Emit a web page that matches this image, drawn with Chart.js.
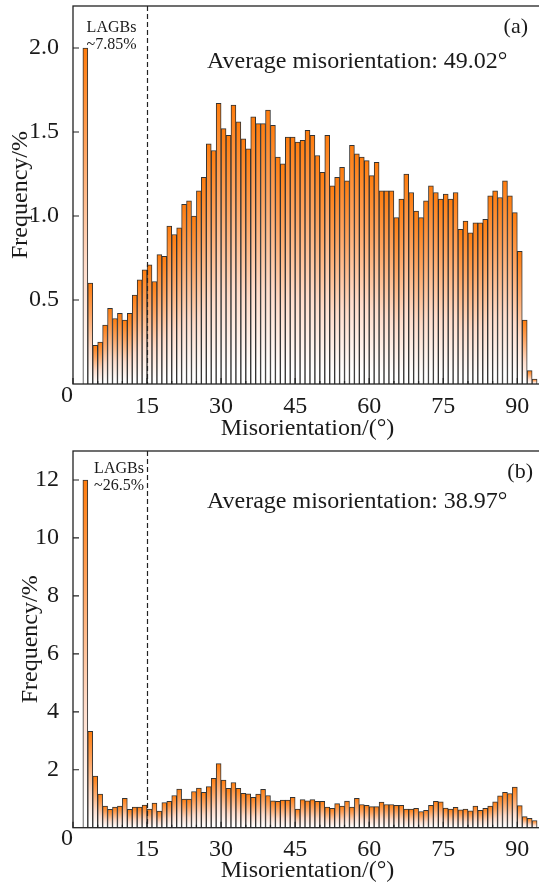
<!DOCTYPE html>
<html>
<head>
<meta charset="utf-8">
<script src="https://cdn.jsdelivr.net/npm/chart.js@4.4.1/dist/chart.umd.min.js"></script>
<style>
  html, body { margin: 0; padding: 0; overflow: hidden; background: #fff; }
  canvas { display: block; }
</style>
</head>
<body>
<canvas id="chartA" width="542" height="445"></canvas>
<canvas id="chartB" width="542" height="442"></canvas>
<script>
// left edge of each 1 degree misorientation bin
var binLeft = [
   2,  3,  4,  5,  6,  7,  8,  9, 10, 11,
  12, 13, 14, 15, 16, 17, 18, 19, 20, 21,
  22, 23, 24, 25, 26, 27, 28, 29, 30, 31,
  32, 33, 34, 35, 36, 37, 38, 39, 40, 41,
  42, 43, 44, 45, 46, 47, 48, 49, 50, 51,
  52, 53, 54, 55, 56, 57, 58, 59, 60, 61,
  62, 63, 64, 65, 66, 67, 68, 69, 70, 71,
  72, 73, 74, 75, 76, 77, 78, 79, 80, 81,
  82, 83, 84, 85, 86, 87, 88, 89, 90, 91,
  92, 93
];

// frequency (%) for panel (a)
var freqA = [
  2.00, 0.60, 0.23, 0.25, 0.35, 0.45, 0.39, 0.42, 0.38, 0.42,
  0.53, 0.62, 0.68, 0.71, 0.61, 0.77, 0.76, 0.94, 0.89, 0.93,
  1.07, 1.09, 1.00, 1.15, 1.23, 1.43, 1.39, 1.67, 1.52, 1.48,
  1.66, 1.56, 1.46, 1.40, 1.59, 1.55, 1.55, 1.63, 1.54, 1.35,
  1.31, 1.47, 1.47, 1.44, 1.45, 1.51, 1.48, 1.36, 1.26, 1.48,
  1.18, 1.23, 1.29, 1.21, 1.42, 1.37, 1.35, 1.33, 1.24, 1.32,
  1.15, 1.15, 1.15, 0.99, 1.10, 1.25, 1.14, 1.03, 0.99, 1.09,
  1.18, 1.14, 1.10, 1.13, 1.10, 1.14, 0.92, 0.97, 0.90, 0.96,
  0.96, 0.98, 1.12, 1.15, 1.11, 1.21, 1.12, 1.02, 0.79, 0.38,
  0.08, 0.03
];

// frequency (%) for panel (b)
var freqB = [
  12.0, 3.33, 1.78, 1.16, 0.75, 0.63, 0.71, 0.75, 1.01, 0.63,
  0.71, 0.71, 0.78, 0.64, 0.85, 0.57, 0.87, 0.91, 1.11, 1.33,
  0.99, 0.99, 1.25, 1.37, 1.22, 1.42, 1.70, 2.21, 1.64, 1.36,
  1.56, 1.36, 1.19, 1.17, 1.05, 1.16, 1.32, 1.11, 0.93, 0.91,
  0.95, 0.95, 1.05, 0.64, 0.97, 0.93, 0.97, 0.91, 0.91, 0.71,
  0.67, 0.83, 0.75, 0.92, 0.71, 1.01, 0.80, 0.77, 0.73, 0.73,
  0.88, 0.80, 0.80, 0.77, 0.77, 0.64, 0.64, 0.67, 0.56, 0.60,
  0.77, 0.91, 0.89, 0.68, 0.64, 0.70, 0.62, 0.64, 0.58, 0.75,
  0.60, 0.67, 0.75, 0.89, 1.10, 1.22, 1.18, 1.40, 0.76, 0.38,
  0.32, 0.25
];

var xTickLabels = [15, 30, 45, 60, 75, 90];
var yTicksA = [0.5, 1.0, 1.5, 2.0];
var yTicksB = [2, 4, 6, 8, 10, 12];

var FONT = "'Liberation Serif', 'Times New Roman', serif";
var INK = '#1a1a1a';

// each bar fades from orange at its top to white at the baseline
function barFill(context) {
  var chart = context.chart;
  if (!chart.chartArea || context.type !== 'data' || !context.parsed) return '#ff7f0e';
  var y = chart.scales.y;
  var top = y.getPixelForValue(context.parsed.y);
  var base = y.getPixelForValue(0);
  if (!isFinite(top) || base - top < 1) return '#ff7f0e';
  var g = chart.ctx.createLinearGradient(0, top, 0, base);
  g.addColorStop(0, 'rgb(255,124,12)');
  g.addColorStop(0.3, 'rgb(255,164,95)');
  g.addColorStop(0.65, 'rgb(255,220,202)');
  g.addColorStop(0.95, '#ffffff');
  return g;
}

// frame, inward ticks, LAGB limit line and the text notes
var framePlugin = {
  id: 'frame',
  afterDatasetsDraw: function(chart, args, opts) {
    var ctx = chart.ctx, a = chart.chartArea;
    var xs = chart.scales.x, ys = chart.scales.y;
    ctx.save();
    ctx.strokeStyle = '#222';

    // dashed line at 15 degrees
    var xd = Math.round(xs.getPixelForValue(15)) + 0.5;
    ctx.lineWidth = 1.2;
    ctx.setLineDash([5, 3]);
    ctx.beginPath();
    ctx.moveTo(xd, a.top);
    ctx.lineTo(xd, a.bottom);
    ctx.stroke();
    ctx.setLineDash([]);

    // ticks pointing into the plot
    ctx.lineWidth = 1.2;
    ctx.beginPath();
    xs.ticks.forEach(function(t) {
      var px = xs.getPixelForValue(t.value);
      var len = t.value % 15 === 0 ? 6 : 3;
      ctx.moveTo(px, a.bottom);
      ctx.lineTo(px, a.bottom - len);
    });
    opts.yTicks.forEach(function(v) {
      var py = ys.getPixelForValue(v);
      ctx.moveTo(a.left, py);
      ctx.lineTo(a.left + 6, py);
    });
    ctx.stroke();

    // frame
    ctx.lineWidth = 1.3;
    ctx.strokeRect(a.left, a.top, a.right - a.left, a.bottom - a.top);

    // texts
    ctx.fillStyle = INK;
    ctx.textBaseline = 'alphabetic';
    ctx.font = '16px ' + FONT;
    ctx.textAlign = 'center';
    ctx.fillText('LAGBs', opts.lagbX, opts.lagbY);
    ctx.fillText(opts.lagbShare, opts.lagbX, opts.lagbY + 17);

    ctx.font = '24px ' + FONT;
    ctx.textAlign = 'left';
    ctx.fillText(opts.average, 207, opts.avgY);

    ctx.font = '22px ' + FONT;
    ctx.textAlign = 'right';
    ctx.fillText(opts.panel, opts.panelX, opts.panelY);

    ctx.font = '24px ' + FONT;
    ctx.textAlign = 'center';
    ctx.fillText('0', 67, opts.zeroY);
    ctx.restore();
  }
};

function makeChart(id, values, yMax, yStep, yTicks, xAxisHeight, yTitlePad, notes) {
  var points = binLeft.map(function(b, i) {
    return { x: b + 0.5, y: values[i] };
  });
  notes.yTicks = yTicks;
  return new Chart(document.getElementById(id), {
    type: 'bar',
    data: {
      datasets: [{
        data: points,
        backgroundColor: barFill,
        borderColor: '#333',
        borderWidth: 1,
        borderSkipped: 'bottom',
        barPercentage: 1,
        categoryPercentage: 1
      }]
    },
    options: {
      responsive: false,
      animation: false,
      layout: { padding: { top: 6, right: 0, left: 0, bottom: 0 } },
      plugins: {
        legend: { display: false },
        tooltip: { enabled: false },
        frame: notes
      },
      scales: {
        x: {
          type: 'linear',
          min: 0,
          max: 95,
          offset: false,
          grid: { display: false },
          border: { display: false },
          ticks: {
            stepSize: 5,
            autoSkip: false,
            maxRotation: 0,
            includeBounds: false,
            padding: 0,
            color: INK,
            font: { family: FONT, size: 24 },
            callback: function(v) {
              return xTickLabels.indexOf(v) >= 0 ? String(v) : '';
            }
          },
          title: {
            display: true,
            text: 'Misorientation/(°)',
            color: INK,
            font: { family: FONT, size: 24 },
            padding: { top: 0, bottom: 2 }
          },
          afterFit: function(s) {
            s.height = xAxisHeight;
            s.paddingLeft = 0;
            s.paddingRight = 0;
          }
        },
        y: {
          min: 0,
          max: yMax,
          grid: { display: false },
          border: { display: false },
          ticks: {
            stepSize: yStep,
            includeBounds: false,
            padding: 6,
            color: INK,
            font: { family: FONT, size: 24 },
            callback: function(v) {
              if (yTicks.indexOf(v) < 0) return '';
              return yStep < 1 ? v.toFixed(1) : String(v);
            }
          },
          title: {
            display: true,
            text: 'Frequency/%',
            color: INK,
            font: { family: FONT, size: 24 },
            padding: { top: yTitlePad, bottom: 0 }
          },
          afterFit: function(s) {
            s.width = 73;
            s.paddingTop = 0;
            s.paddingBottom = 0;
          }
        }
      }
    },
    plugins: [framePlugin]
  });
}

makeChart('chartA', freqA, 2.25, 0.5, yTicksA, 61, 6.5, {
  lagbX: 111.5, lagbY: 32, lagbShare: '~7.85%',
  average: 'Average misorientation: 49.02°', avgY: 68,
  panel: '(a)', panelX: 528, panelY: 33,
  zeroY: 402
});

makeChart('chartB', freqB, 13, 2, yTicksB, 59.3, 16.5, {
  lagbX: 119, lagbY: 28, lagbShare: '~26.5%',
  average: 'Average misorientation: 38.97°', avgY: 63,
  panel: '(b)', panelX: 533, panelY: 33,
  zeroY: 400
});
</script>
</body>
</html>
